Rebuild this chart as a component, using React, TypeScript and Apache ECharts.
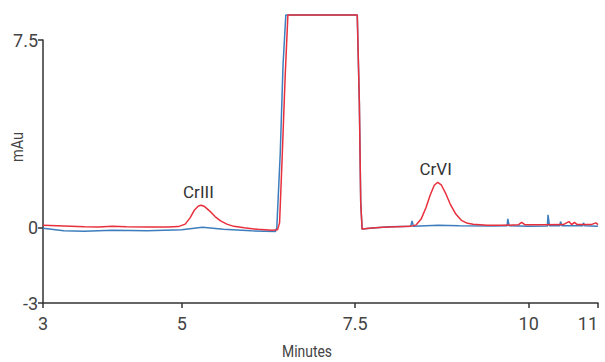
import React, { useEffect, useRef } from "react";
import * as echarts from "echarts";

const xTicks = [3, 5, 7.5, 10, 11];
const yTicks = [-3, 0, 7.5];

const redX = [3.0, 3.3, 3.6, 3.8, 4.0, 4.2, 4.5, 4.8, 4.95, 5.05, 5.12, 5.18, 5.24, 5.28, 5.33, 5.4, 5.48, 5.56, 5.65, 5.75, 5.9, 6.1, 6.3, 6.38, 6.41, 6.45, 6.49, 6.53, 7.53, 7.56, 7.58, 7.6, 7.7, 7.9, 8.1, 8.3, 8.38, 8.45, 8.52, 8.58, 8.64, 8.69, 8.74, 8.8, 8.87, 8.95, 9.03, 9.12, 9.2, 9.4, 9.6, 9.85, 9.9, 9.95, 10.2, 10.5, 10.58, 10.62, 10.66, 10.7, 10.9, 10.97, 11.0];
const redY = [0.1, 0.07, 0.04, 0.03, 0.06, 0.04, 0.03, 0.03, 0.05, 0.15, 0.4, 0.7, 0.87, 0.9, 0.85, 0.68, 0.45, 0.28, 0.15, 0.06, 0.0, -0.06, -0.1, -0.08, 0.2, 3.0, 6.0, 8.5, 8.5, 5.0, 1.0, -0.05, -0.02, 0.02, 0.04, 0.06, 0.12, 0.35, 0.8, 1.3, 1.7, 1.82, 1.72, 1.4, 0.95, 0.55, 0.3, 0.18, 0.14, 0.1, 0.1, 0.12, 0.22, 0.12, 0.12, 0.13, 0.25, 0.13, 0.22, 0.13, 0.13, 0.2, 0.13];

const blueX = [3.0, 3.3, 3.6, 4.0, 4.5, 5.0, 5.3, 5.6, 6.0, 6.35, 6.37, 6.42, 6.46, 6.5, 7.53, 7.56, 7.58, 7.6, 7.8, 8.0, 8.3, 8.32, 8.34, 8.7, 9.0, 9.5, 9.69, 9.7, 9.72, 10.0, 10.27, 10.28, 10.3, 10.45, 10.46, 10.48, 10.78, 10.79, 10.81, 11.0];
const blueY = [-0.02, -0.12, -0.14, -0.1, -0.12, -0.08, 0.02, -0.06, -0.12, -0.15, 0.0, 3.0, 6.5, 8.5, 8.5, 5.0, 1.0, -0.05, 0.0, 0.04, 0.06, 0.28, 0.06, 0.1, 0.08, 0.07, 0.08, 0.36, 0.08, 0.06, 0.07, 0.52, 0.08, 0.08, 0.25, 0.08, 0.08, 0.2, 0.08, 0.06];

const peakNames = ["CrIII", "CrVI"];
const peakX = [5.24, 8.66];
const peakY = [0.9, 1.82];

const FONT = "Roboto, 'Liberation Sans', sans-serif";

export default function App() {
  const ref = useRef<HTMLDivElement>(null);
  useEffect(() => {
    if (!ref.current) return;
    const chart = echarts.init(ref.current, null, { renderer: "svg" });
    chart.setOption({
      animation: false,
      textStyle: { fontFamily: FONT },
      grid: { left: 43, right: 7, top: 40, bottom: 59, containLabel: false, outerBoundsMode: "none" },
      xAxis: {
        type: "value",
        min: 3,
        max: 11,
        splitLine: { show: false },
        axisLine: { show: true, onZero: false, lineStyle: { color: "#333", width: 1.5 } },
        axisTick: { show: true, customValues: xTicks, length: 5, lineStyle: { color: "#333", width: 1.5 } },
        axisLabel: { customValues: xTicks, fontSize: 18, color: "#444", margin: 11, fontFamily: FONT, alignMaxLabel: "right" },
      },
      yAxis: {
        type: "value",
        min: -3,
        max: 7.5,
        splitLine: { show: false },
        axisLine: { show: true, onZero: false, lineStyle: { color: "#333", width: 1.5 } },
        axisTick: { show: true, customValues: yTicks, length: 5, lineStyle: { color: "#333", width: 1.5 } },
        axisLabel: { customValues: yTicks, fontSize: 18, color: "#444", margin: 5, fontFamily: FONT },
      },
      graphic: [
        { type: "text", x: 17, y: 147, rotation: Math.PI / 2, scaleX: 0.85, style: { text: "mAu", fontSize: 17, fill: "#444", fontFamily: FONT, textAlign: "center", textVerticalAlign: "middle" } },
        { type: "text", x: 307, y: 352, scaleX: 0.82, style: { text: "Minutes", fontSize: 17, fill: "#444", fontFamily: FONT, textAlign: "center", textVerticalAlign: "middle" } },
      ],
      series: [
        {
          type: "line",
          data: blueX.map((x, i) => [x, blueY[i]]),
          showSymbol: false,
          clip: false,
          lineStyle: { color: "#3d7dbd", width: 1.5 },
          itemStyle: { color: "#3d7dbd" },
        },
        {
          type: "line",
          data: redX.map((x, i) => [x, redY[i]]),
          showSymbol: false,
          clip: false,
          lineStyle: { color: "#e8303c", width: 1.5 },
          itemStyle: { color: "#e8303c" },
          markPoint: {
            symbol: "circle",
            symbolSize: 0,
            label: { show: true, position: "top", distance: 5, fontSize: 17, color: "#333", fontFamily: FONT, formatter: (p: any) => p.name },
            data: peakNames.map((n, i) => ({ name: n, coord: [peakX[i], peakY[i]] })),
          },
        },
      ],
    });
    return () => chart.dispose();
  }, []);
  return <div ref={ref} style={{ position: "absolute", left: 0, top: 0, width: 605, height: 362 }} />;
}
